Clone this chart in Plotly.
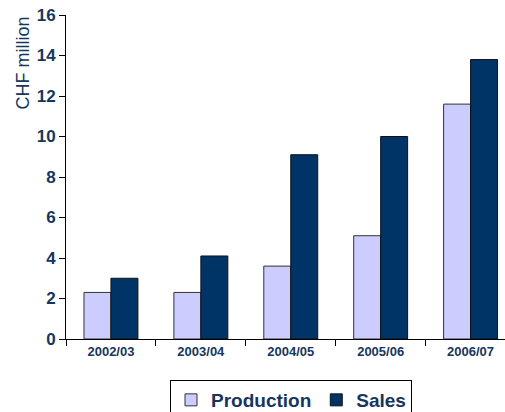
import plotly.graph_objects as go

categories = ["2002/03", "2003/04", "2004/05", "2005/06", "2006/07"]
production = [2.3, 2.3, 3.6, 5.1, 11.6]
sales = [3.0, 4.1, 9.1, 10.0, 13.8]
y_ticks = [0, 2, 4, 6, 8, 10, 12, 14, 16]

navy = "#17365D"
font_main = "Liberation Sans, Arial, sans-serif"

fig = go.Figure()
fig.add_trace(go.Bar(x=categories, y=production, name="Production",
                     marker=dict(color="#CCCCFF", line=dict(color="#333333", width=1))))
fig.add_trace(go.Bar(x=categories, y=sales, name="Sales",
                     marker=dict(color="#003366", line=dict(color="#111111", width=1))))

fig.update_layout(
    width=505, height=412,
    margin=dict(l=66, r=0, t=15, b=73, autoexpand=False),
    plot_bgcolor="white", paper_bgcolor="white",
    barmode="group", bargap=0.4, bargroupgap=0,
    font=dict(family=font_main, color=navy),
    showlegend=True,
    legend=dict(orientation="h", x=291 / 505, xref="container", xanchor="center",
                y=1 - 380 / 412, yref="container", yanchor="top",
                bordercolor="#000000", borderwidth=1,
                font=dict(size=19, family=font_main, color=navy, weight="bold"),
                itemwidth=30, tracegroupgap=0),
    xaxis=dict(range=[-0.5, 4.383], showline=True, linecolor="#000000", linewidth=1,
               ticks="outside", tickson="boundaries", ticklen=6, tickcolor="#000000",
               tickfont=dict(size=13, weight="bold", color=navy), showgrid=False),
    yaxis=dict(range=[0, 16], tickvals=y_ticks, showline=True, linecolor="#000000", linewidth=1,
               ticks="outside", ticklen=6, tickcolor="#000000", showgrid=False,
               tickfont=dict(size=17, weight="bold", color=navy), zeroline=False),
)
fig.add_annotation(text="CHF million", xref="paper", yref="paper", x=-0.1, y=1.0,
                   xanchor="center", yanchor="top", textangle=-90, showarrow=False,
                   font=dict(size=18, color=navy, family=font_main))

fig.write_html("out.html")
